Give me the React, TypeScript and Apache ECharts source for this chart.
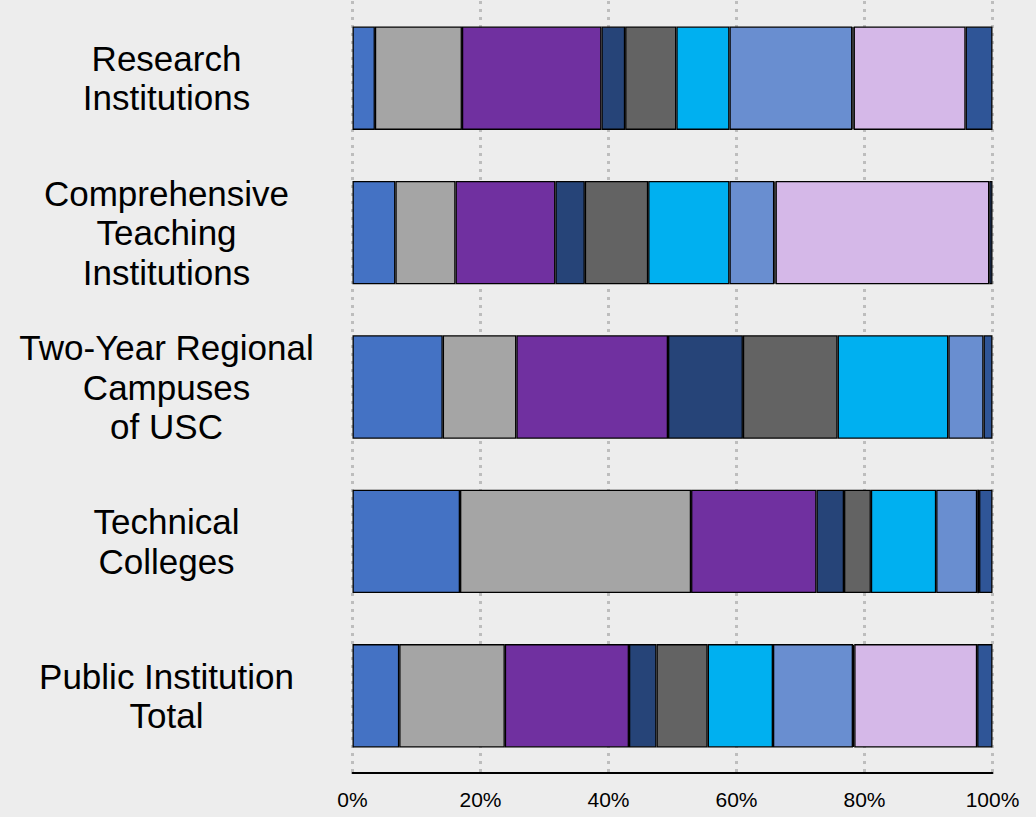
import React, { useEffect, useRef } from "react";
import * as echarts from "echarts";

const categories = [
  "Research\nInstitutions",
  "Comprehensive\nTeaching\nInstitutions",
  "Two-Year Regional\nCampuses\nof USC",
  "Technical\nColleges",
  "Public Institution\nTotal",
];

const xTicks = [0, 20, 40, 60, 80, 100];

const seriesNames = [
  "Segment 1",
  "Segment 2",
  "Segment 3",
  "Segment 4",
  "Segment 5",
  "Segment 6",
  "Segment 7",
  "Segment 8",
  "Segment 9",
  "Segment 10",
];

const seriesColors = [
  "#4472C4",
  "#A5A5A5",
  "#7030A0",
  "#264478",
  "#636363",
  "#00B0F0",
  "#698ED0",
  "#1F2D4F",
  "#D5B8E8",
  "#2F5597",
];

// values per category (Research, Comprehensive, Two-Year, Technical, Total), in %
const seg1 = [3.5, 6.7, 14.1, 16.8, 7.3];
const seg2 = [13.6, 9.4, 11.5, 36.1, 16.5];
const seg3 = [21.8, 15.6, 23.7, 19.6, 19.4];
const seg4 = [3.7, 4.6, 11.7, 4.3, 4.3];
const seg5 = [8.0, 9.9, 14.8, 4.2, 8.0];
const seg6 = [8.3, 12.7, 17.3, 10.2, 10.2];
const seg7 = [19.2, 7.0, 5.5, 6.4, 12.5];
const seg8 = [0.2, 0.2, null, null, 0.2];
const seg9 = [17.5, 33.4, null, 0.3, 19.2];
const seg10 = [4.2, 0.5, 1.4, 2.1, 2.4];

const seriesValues = [seg1, seg2, seg3, seg4, seg5, seg6, seg7, seg8, seg9, seg10];

export default function App() {
  const ref = useRef<HTMLDivElement>(null);

  useEffect(() => {
    if (!ref.current) return;
    const chart = echarts.init(ref.current, undefined, { renderer: "svg" });
    const font = "'Liberation Sans', Arial, sans-serif";
    chart.setOption({
      animation: false,
      backgroundColor: "#EDEDED",
      textStyle: { fontFamily: font },
      grid: { left: 352.5, right: 43.5, top: 1, bottom: 44, containLabel: false },
      xAxis: {
        type: "value",
        min: xTicks[0],
        max: xTicks[xTicks.length - 1],
        interval: xTicks[1] - xTicks[0],
        axisLine: { show: true, lineStyle: { color: "#000", width: 2 } },
        axisTick: { show: false },
        axisLabel: {
          formatter: "{value}%",
          fontSize: 21,
          color: "#000",
          fontFamily: font,
          margin: 16,
        },
        splitLine: {
          show: true,
          lineStyle: { color: "#BDBDBD", width: 3, type: [3, 5] },
        },
      },
      yAxis: {
        type: "category",
        data: categories,
        inverse: true,
        axisLine: { show: false },
        axisTick: { show: false },
        axisLabel: {
          align: "center",
          margin: 186,
          fontSize: 35,
          lineHeight: 39.5,
          color: "#000",
          fontFamily: font,
        },
      },
      series: seriesNames.map((name, i) => ({
        name,
        type: "bar",
        stack: "total",
        barCategoryGap: "33%",
        data: seriesValues[i],
        itemStyle: {
          color: seriesColors[i],
          borderColor: "#000",
          borderWidth: 1.3,
        },
      })),
    });
    return () => chart.dispose();
  }, []);

  return (
    <div
      ref={ref}
      style={{ position: "fixed", left: 0, top: 0, width: 1036, height: 817 }}
    />
  );
}
